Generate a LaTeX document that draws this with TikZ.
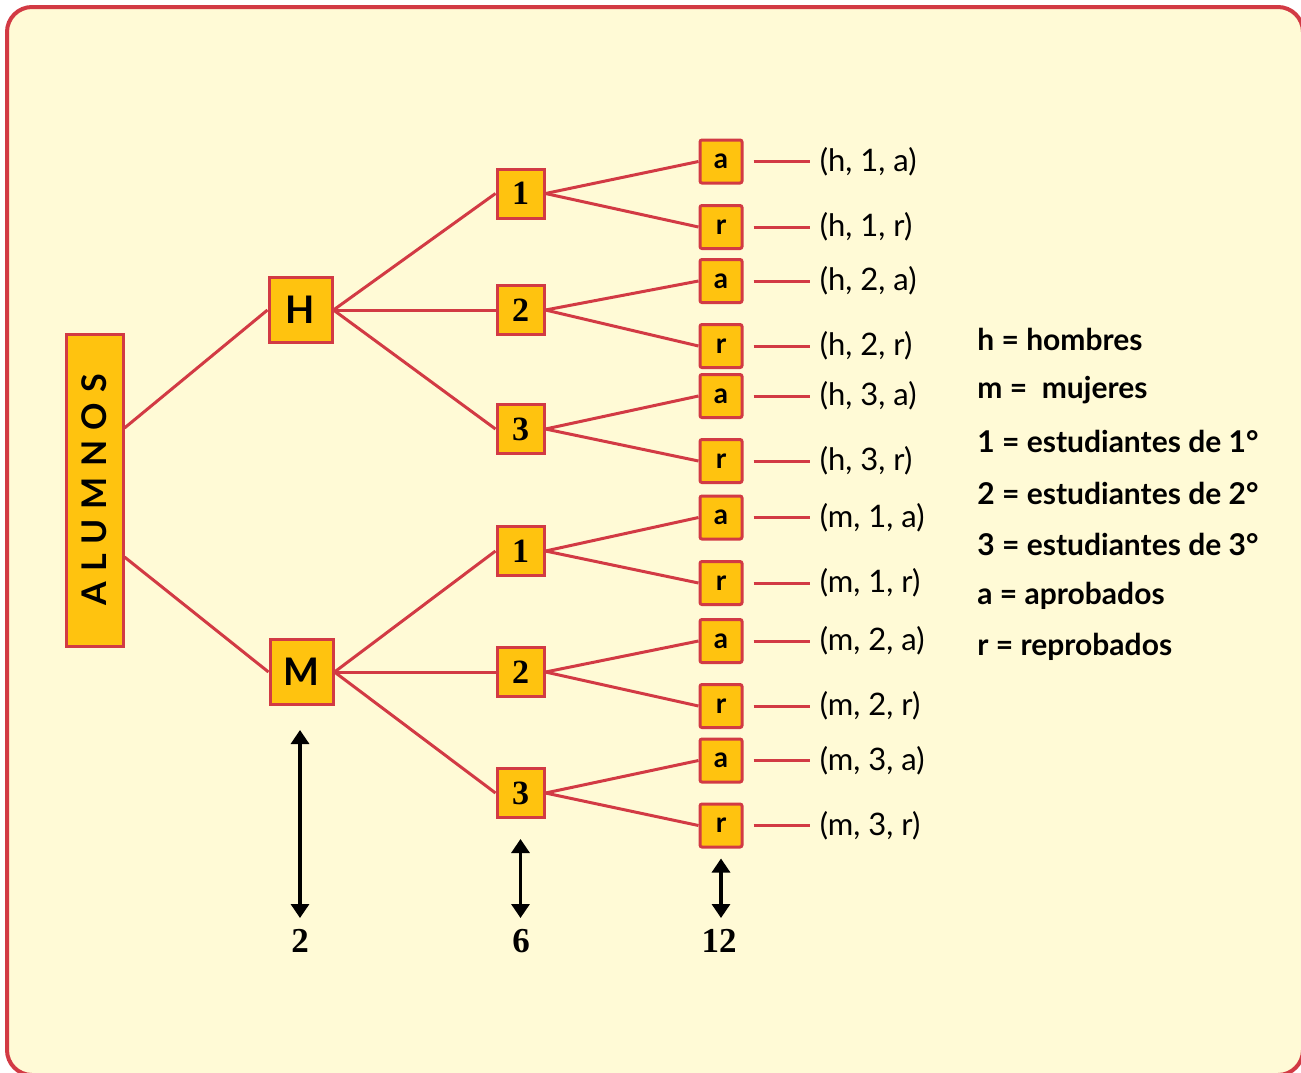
\documentclass[tikz,border=0pt]{standalone}
\usepackage{graphicx}
\usepackage{fontspec}
\setmainfont{Lato}
\newfontfamily\digitfont{Liberation Serif}
\newfontfamily\rootfont[LetterSpace=30]{Lato}
\usetikzlibrary{arrows.meta,positioning}
\definecolor{paneyellow}{HTML}{FFFAD6}
\definecolor{boxgold}{HTML}{FFC30F}
\definecolor{branchred}{HTML}{D23A44}
\tikzset{
    rootbox/.style={rectangle, draw=branchred, line width=1.5pt, fill=boxgold,
        minimum width=28.5pt, minimum height=156pt, inner sep=0pt,
        font=\rootfont\bfseries\fontsize{17}{17}\selectfont},
    genbox/.style={rectangle, draw=branchred, line width=1.5pt, fill=boxgold,
        minimum width=31.5pt, minimum height=32.5pt, inner sep=0pt,
        font=\bfseries\fontsize{19}{19}\selectfont},
    yearbox/.style={rectangle, draw=branchred, line width=1.5pt, fill=boxgold,
        minimum width=23.5pt, minimum height=24.5pt, inner sep=0pt,
        font=\digitfont\bfseries\fontsize{17}{17}\selectfont},
    resbox/.style={rectangle, rounded corners=1pt, draw=branchred, line width=1.5pt, fill=boxgold,
        minimum width=21pt, minimum height=21.5pt, inner sep=0pt,
        font=\bfseries\fontsize{14}{14}\selectfont},
    branch/.style={draw=branchred, line width=1.5pt},
    outcome/.style={inner xsep=5pt, inner ysep=0pt, font=\fontsize{15.5}{15.5}\selectfont},
    legend/.style={anchor=west, inner sep=0pt, font=\bfseries\fontsize{15}{15}\selectfont},
    count/.style={{Triangle[length=7pt,width=9pt]}-{Triangle[length=7pt,width=9pt]}, line width=1.6pt},
    total/.style={anchor=north, inner xsep=1pt, inner ysep=5.5pt,
        font=\digitfont\bfseries\fontsize{17.5}{17.5}\selectfont}
}

\begin{document}
\begin{tikzpicture}[x=0.5pt, y=-0.5pt]
        \useasboundingbox (0,0) rectangle (1301,1072);
        \draw[branchred, line width=2pt, fill=paneyellow, rounded corners=12.5pt] (7,7) rectangle (1303,1075);
        % tree
        \node[rootbox] (alumnos) at (94.5,490) {\rotatebox{90}{ALUMNOS}};
        \node[genbox] (hbox) at (300.5,310) {H};
        \node[genbox] (mbox) at (301.5,672) {M};
        \node[yearbox] (h1) at (520.5,193.5) {1};
        \node[yearbox] (h2) at (520.5,310) {2};
        \node[yearbox] (h3) at (520.5,429) {3};
        \node[yearbox] (m1) at (520.5,551) {1};
        \node[yearbox] (m2) at (520.5,672) {2};
        \node[yearbox] (m3) at (520.5,793) {3};
        \node[resbox] (ha1) at (721,161.5) {a};
        \node[resbox] (hr1) at (721,227) {r};
        \node[resbox] (ha2) at (721,281) {a};
        \node[resbox] (hr2) at (721,346) {r};
        \node[resbox] (ha3) at (721,396) {a};
        \node[resbox] (hr3) at (721,461) {r};
        \node[resbox] (ma1) at (721,517.5) {a};
        \node[resbox] (mr1) at (721,583) {r};
        \node[resbox] (ma2) at (721,641) {a};
        \node[resbox] (mr2) at (721,706) {r};
        \node[resbox] (ma3) at (721,760.5) {a};
        \node[resbox] (mr3) at (721,825.5) {r};
        % outcomes
        \node[outcome,right=33pt of ha1] (oha1) {(h, 1, a)};
        \node[outcome,right=33pt of hr1] (ohr1) {(h, 1, r)};
        \node[outcome,right=33pt of ha2] (oha2) {(h, 2, a)};
        \node[outcome,right=33pt of hr2] (ohr2) {(h, 2, r)};
        \node[outcome,right=33pt of ha3] (oha3) {(h, 3, a)};
        \node[outcome,right=33pt of hr3] (ohr3) {(h, 3, r)};
        \node[outcome,right=33pt of ma1] (oma1) {(m, 1, a)};
        \node[outcome,right=33pt of mr1] (omr1) {(m, 1, r)};
        \node[outcome,right=33pt of ma2] (oma2) {(m, 2, a)};
        \node[outcome,right=33pt of mr2] (omr2) {(m, 2, r)};
        \node[outcome,right=33pt of ma3] (oma3) {(m, 3, a)};
        \node[outcome,right=33pt of mr3] (omr3) {(m, 3, r)};
        % legend
        \node[legend] (lh) at (977,339) {h = hombres};
        \node[legend] (lm) at (977,390) {m =\ \ mujeres};
        \node[legend] (l1) at (977,441) {1 = estudiantes de 1°};
        \node[legend] (l2) at (977,493) {2 = estudiantes de 2°};
        \node[legend] (l3) at (977,544) {3 = estudiantes de 3°};
        \node[legend] (la) at (977,596) {a = aprobados};
        \node[legend] (lr) at (977,647) {r = reprobados};
        % totals
        \node[total] (tot2) at (300,918) {2};
        \node[total] (tot6) at (521,918) {6};
        \node[total] (tot12) at (719,918) {12};
        \draw[branch] ([yshift=31pt]alumnos.east) -- (hbox.west);
        \draw[branch] ([yshift=-33.5pt]alumnos.east) -- (mbox.west);
        \draw[branch] (hbox.east) -- (h1.west);
        \draw[branch] (hbox.east) -- (h2.west);
        \draw[branch] (hbox.east) -- (h3.west);
        \draw[branch] (mbox.east) -- (m1.west);
        \draw[branch] (mbox.east) -- (m2.west);
        \draw[branch] (mbox.east) -- (m3.west);
        \draw[branch] (h1.east) -- (ha1.west);
        \draw[branch] (h1.east) -- (hr1.west);
        \draw[branch] (h2.east) -- (ha2.west);
        \draw[branch] (h2.east) -- (hr2.west);
        \draw[branch] (h3.east) -- (ha3.west);
        \draw[branch] (h3.east) -- (hr3.west);
        \draw[branch] (m1.east) -- (ma1.west);
        \draw[branch] (m1.east) -- (mr1.west);
        \draw[branch] (m2.east) -- (ma2.west);
        \draw[branch] (m2.east) -- (mr2.west);
        \draw[branch] (m3.east) -- (ma3.west);
        \draw[branch] (m3.east) -- (mr3.west);
        \draw[branch] ([xshift=5pt]ha1.east) -- (oha1.west);
        \draw[branch] ([xshift=5pt]hr1.east) -- (ohr1.west);
        \draw[branch] ([xshift=5pt]ha2.east) -- (oha2.west);
        \draw[branch] ([xshift=5pt]hr2.east) -- (ohr2.west);
        \draw[branch] ([xshift=5pt]ha3.east) -- (oha3.west);
        \draw[branch] ([xshift=5pt]hr3.east) -- (ohr3.west);
        \draw[branch] ([xshift=5pt]ma1.east) -- (oma1.west);
        \draw[branch] ([xshift=5pt]mr1.east) -- (omr1.west);
        \draw[branch] ([xshift=5pt]ma2.east) -- (oma2.west);
        \draw[branch] ([xshift=5pt]mr2.east) -- (omr2.west);
        \draw[branch] ([xshift=5pt]ma3.east) -- (oma3.west);
        \draw[branch] ([xshift=5pt]mr3.east) -- (omr3.west);
        \draw[count] ([yshift=-12pt]mbox.south -| tot2.north) -- (tot2.north);
        \draw[count] ([yshift=-10pt]m3.south) -- (m3.south |- tot6.north);
        \draw[count] ([yshift=-5pt]mr3.south) -- (mr3.south |- tot12.north);
    \end{tikzpicture}
\end{document}
